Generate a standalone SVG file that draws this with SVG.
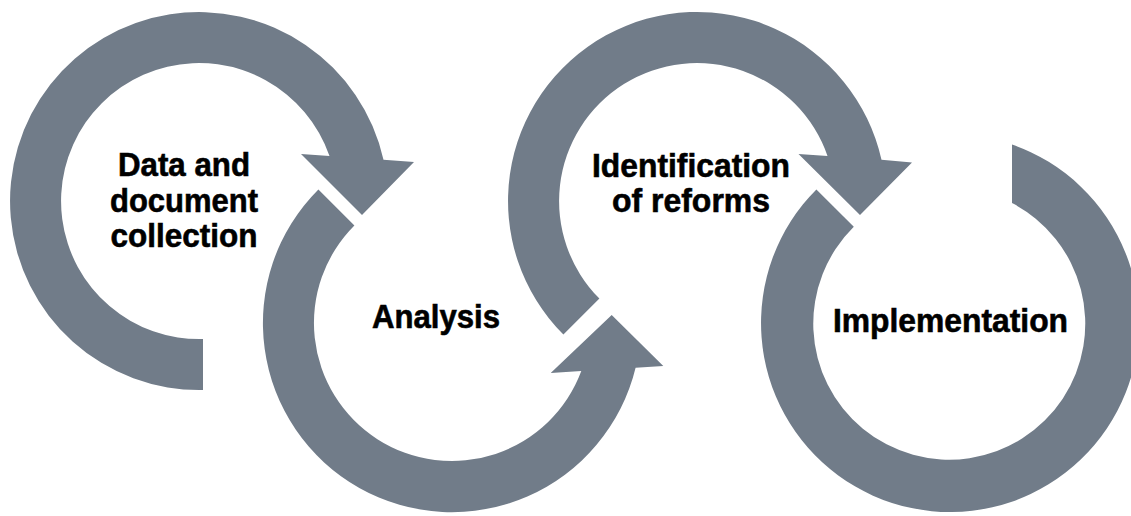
<svg xmlns="http://www.w3.org/2000/svg" width="1131" height="516" viewBox="0 0 1131 516">
  <style>
    .ring { fill: #717c89; stroke: none; }
    .lbl { font-family: "Liberation Sans", Arial, sans-serif; font-weight: bold; font-size: 33px; fill: #000; stroke: #000; stroke-width: 0.6px; text-anchor: middle; }
  </style>
  <rect width="1131" height="516" fill="#ffffff"/>
  <g id="connectors"></g>
  <g id="node-data">
    <path class="ring" d="M 203 390 A 189 189 0 1 1 383.5 159.8 L 414 162 L 362 215 L 301 154 L 329.5 156 A 138 138 0 1 0 203 339 Z"/>
    <text class="lbl" x="184" y="176" textLength="132" lengthAdjust="spacingAndGlyphs">Data and</text>
    <text class="lbl" x="184" y="212" textLength="148" lengthAdjust="spacingAndGlyphs">document</text>
    <text class="lbl" x="184" y="247" textLength="147" lengthAdjust="spacingAndGlyphs">collection</text>
  </g>
  <g id="node-analysis">
    <path class="ring" d="M 318.4 189.4 A 189 189 0 1 0 635.6 367.7 L 663.3 366 L 611.7 315 L 550.7 373 L 581.3 371.1 A 138 138 0 1 1 354.4 225.4 Z"/>
    <text class="lbl" x="436" y="328" textLength="128" lengthAdjust="spacingAndGlyphs">Analysis</text>
  </g>
  <g id="node-reforms">
    <path class="ring" d="M 563.4 334.6 A 189 189 0 1 1 881.5 159.8 L 912 162.5 L 860 215 L 798.5 154 L 827.5 156 A 138 138 0 1 0 599.4 298.6 Z"/>
    <text class="lbl" x="691" y="177" textLength="198" lengthAdjust="spacingAndGlyphs">Identification</text>
    <text class="lbl" x="691" y="212" textLength="158" lengthAdjust="spacingAndGlyphs">of reforms</text>
  </g>
  <g id="node-implementation">
    <path class="ring" d="M 816.4 189.4 A 189 189 0 1 0 1012 144.5 L 1012 203 A 136 136 0 1 1 853.8 226.8 Z"/>
    <text class="lbl" x="950.5" y="332" textLength="235" lengthAdjust="spacingAndGlyphs">Implementation</text>
  </g>
</svg>
